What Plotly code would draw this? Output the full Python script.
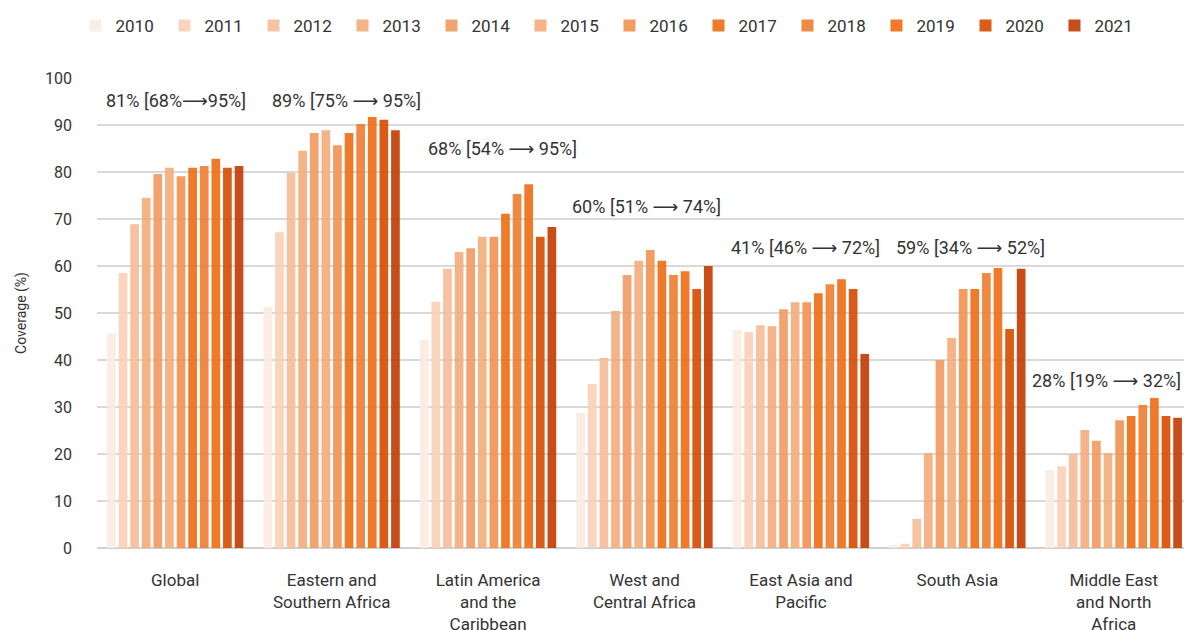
import plotly.graph_objects as go

regions = ["Global", "Eastern and<br>Southern Africa", "Latin America<br>and the<br>Caribbean",
           "West and<br>Central Africa", "East Asia and<br>Pacific", "South Asia",
           "Middle East<br>and North<br>Africa"]
years = ["2010", "2011", "2012", "2013", "2014", "2015", "2016", "2017", "2018", "2019", "2020", "2021"]

# coverage (%) per year, in region order
global_v = [45.7, 58.5, 68.9, 74.5, 79.6, 80.9, 79.1, 80.9, 81.3, 82.8, 80.9, 81.3]
esa_v = [51.2, 67.2, 79.8, 84.5, 88.3, 88.9, 85.7, 88.3, 90.2, 91.7, 91.1, 88.9]
lac_v = [44.3, 52.4, 59.4, 63.0, 63.8, 66.2, 66.2, 71.1, 75.3, 77.4, 66.2, 68.3]
wca_v = [28.7, 34.9, 40.4, 50.4, 58.1, 61.1, 63.4, 61.1, 58.1, 58.9, 55.1, 60.0]
eap_v = [46.4, 45.9, 47.4, 47.2, 50.8, 52.3, 52.3, 54.2, 56.1, 57.2, 55.1, 41.3]
sa_v = [0.6, 0.9, 6.2, 20.2, 40.0, 44.7, 55.1, 55.1, 58.5, 59.6, 46.6, 59.4]
mena_v = [16.6, 17.4, 20.0, 25.1, 22.8, 20.2, 27.2, 28.1, 30.4, 31.9, 28.1, 27.7]

series = [global_v, esa_v, lac_v, wca_v, eap_v, sa_v, mena_v]

labels = ["81% [68%⟶95%]", "89% [75% ⟶ 95%]", "68% [54% ⟶ 95%]", "60% [51% ⟶ 74%]",
          "41% [46% ⟶ 72%]", "59% [34% ⟶ 52%]", "28% [19% ⟶ 32%]"]
label_y = [95.3, 95.3, 85.1, 72.6, 64.0, 64.0, 35.7]
label_shift = [1, 15, 14, 2, 5, 13, -7]

target_colors = ["#fcede4", "#fad4bd", "#f7c2a1", "#f5b388", "#f2a36f", "#f5b388",
                 "#f29c62", "#ee7b2b", "#ef8a45", "#ee7b2b", "#d95c16", "#c94e0d"]

ALPHA = 0.9


def unblend(hexc, a=ALPHA):
    h = hexc.lstrip("#")
    rgb = [int(h[i:i + 2], 16) for i in (0, 2, 4)]
    out = [max(0, min(255, round((c - (1 - a) * 255) / a))) for c in rgb]
    return "rgba(%d,%d,%d,%.2f)" % (out[0], out[1], out[2], a)


fig = go.Figure()
for i, yr in enumerate(years):
    fig.add_trace(go.Bar(
        name=yr, x=regions, y=[s[i] for s in series],
        marker=dict(color=unblend(target_colors[i]), line=dict(width=0)),
    ))

for r, t, yv, sh in zip(regions, labels, label_y, label_shift):
    fig.add_annotation(x=r, y=yv, text=t, showarrow=False, xshift=sh,
                       font=dict(size=18, color="#333333"), yanchor="middle")

# page body adds an 8px offset; the figure is sized to compensate
fig.update_layout(
    width=1184, height=622,
    margin=dict(l=89, r=0, t=70, b=82, autoexpand=False),
    paper_bgcolor="white", plot_bgcolor="white",
    barmode="group", bargap=0.11, bargroupgap=0.25,
    font=dict(family="Roboto, 'Liberation Sans', 'DejaVu Sans', sans-serif", color="#333333"),
    legend=dict(orientation="h", xref="container", x=0.057, xanchor="left",
                y=1.0, yref="container", yanchor="top",
                font=dict(size=17, color="#333333"), entrywidth=44, entrywidthmode="pixels",
                traceorder="normal", itemsizing="constant"),
    showlegend=True,
)
fig.update_yaxes(range=[0, 100], dtick=10, showgrid=True, gridcolor="#d9d9d9", gridwidth=1.5,
                 zeroline=True, zerolinecolor="#d0d0d0", zerolinewidth=2, automargin=False,
                 tickfont=dict(size=16, color="#333333"), ticklabelstandoff=24,
                 title=dict(text="Coverage (%)", font=dict(size=14, color="#333333")))
fig.update_xaxes(showgrid=False, tickfont=dict(size=17, color="#333333"), ticklabelstandoff=20,
                 showline=False, automargin=False)

fig.write_html("out.html")
